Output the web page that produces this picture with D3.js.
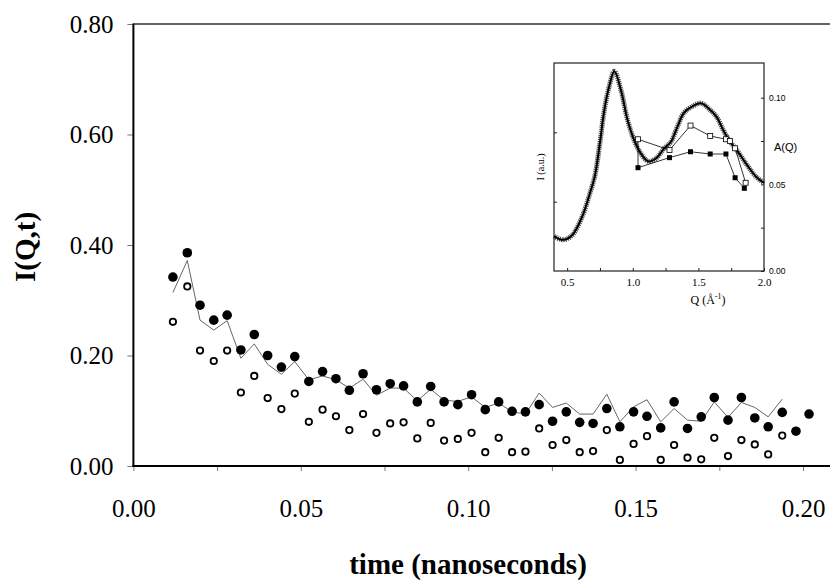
<!DOCTYPE html>
<html>
<head>
<meta charset="utf-8">
<script src="https://cdn.jsdelivr.net/npm/d3@7"></script>
<style>
  body { margin: 0; background: #fff; }
  svg { display: block; }
  .serif { font-family: "Liberation Serif", "Times New Roman", serif; }
  .sans { font-family: "Liberation Sans", Arial, sans-serif; }
</style>
</head>
<body>
<svg id="chart"></svg>
<script>
//Main chart data: time (ns) and intensities
let times = [0.0118, 0.0161, 0.0199, 0.0240, 0.0280, 0.0321, 0.0361, 0.0401, 0.0442, 0.0482,
             0.0524, 0.0565, 0.0605, 0.0645, 0.0686, 0.0726, 0.0767, 0.0807, 0.0848, 0.0888,
             0.0928, 0.0969, 0.1010, 0.1051, 0.1091, 0.1131, 0.1171, 0.1212, 0.1252, 0.1293,
             0.1333, 0.1373, 0.1414, 0.1453, 0.1494, 0.1534, 0.1575, 0.1615, 0.1655, 0.1696,
             0.1735, 0.1776, 0.1816, 0.1856, 0.1896, 0.1938, 0.1979, 0.2018];

let filledVals = [0.342, 0.386, 0.291, 0.264, 0.273, 0.210, 0.238, 0.200, 0.179, 0.198,
                  0.153, 0.171, 0.158, 0.137, 0.167, 0.138, 0.149, 0.145, 0.116, 0.144,
                  0.116, 0.111, 0.129, 0.102, 0.116, 0.099, 0.098, 0.111, 0.081, 0.098,
                  0.079, 0.077, 0.104, 0.071, 0.098, 0.090, 0.069, 0.116, 0.068, 0.089,
                  0.124, 0.083, 0.124, 0.087, 0.071, 0.097, 0.063, 0.094];

let openVals = [0.261, 0.325, 0.209, 0.190, 0.209, 0.133, 0.163, 0.123, 0.103, 0.131,
                0.080, 0.102, 0.090, 0.065, 0.094, 0.060, 0.077, 0.079, 0.050, 0.078,
                0.046, 0.049, 0.060, 0.025, 0.051, 0.025, 0.026, 0.068, 0.038, 0.047,
                0.025, 0.027, 0.065, 0.011, 0.040, 0.054, 0.011, 0.038, 0.015, 0.012,
                0.051, 0.018, 0.047, 0.039, 0.021, 0.055];

let lineVals = [0.314, 0.372, 0.264, 0.246, 0.263, 0.195, 0.221, 0.184, 0.166, 0.189,
                0.156, 0.163, 0.156, 0.141, 0.157, 0.128, 0.141, 0.141, 0.118, 0.139,
                0.119, 0.117, 0.125, 0.106, 0.114, 0.098, 0.094, 0.132, 0.106, 0.114,
                0.094, 0.094, 0.130, 0.080, 0.107, 0.120, 0.080, 0.104, 0.083, 0.081,
                0.116, 0.088, 0.115, 0.106, 0.089, 0.121];

let yTicks = [0, 0.2, 0.4, 0.6, 0.8];
let xTicks = [0, 0.025, 0.05, 0.075, 0.1, 0.125, 0.15, 0.175, 0.2];

//Inset data: structure factor I(Q) and A(Q)
let qCurve = [0.40, 0.47, 0.54, 0.62, 0.67, 0.71, 0.75, 0.78, 0.82, 0.86, 0.91, 0.96,
              1.01, 1.06, 1.12, 1.18, 1.24, 1.29, 1.34, 1.39, 1.46, 1.52, 1.58, 1.64,
              1.69, 1.74, 1.79, 1.87, 1.94, 2.00];
let iCurve = [0.50, 0.45, 0.52, 0.81, 1.10, 1.36, 1.85, 2.28, 2.66, 2.88, 2.61, 2.18,
              1.89, 1.70, 1.58, 1.63, 1.77, 1.86, 2.08, 2.28, 2.38, 2.42, 2.34, 2.22,
              2.03, 1.87, 1.75, 1.53, 1.36, 1.27];

let qOpen = [1.04, 1.28, 1.44, 1.59, 1.71, 1.74, 1.78, 1.86];
let aOpen = [0.0760, 0.0698, 0.0839, 0.0779, 0.0760, 0.0750, 0.0708, 0.0509];

let qFilled = [1.04, 1.28, 1.44, 1.59, 1.71, 1.78, 1.85];
let aFilled = [0.0596, 0.0654, 0.0688, 0.0675, 0.0675, 0.0538, 0.0477];

let qTicks = [0.5, 0.75, 1.0, 1.25, 1.5, 1.75, 2.0];
let aTicks = [0, 0.025, 0.05, 0.075, 0.1];
let iTicks = [1, 2];

//Canvas
let canvas = { width: 830, height: 582 };
let svg = d3.select('#chart')
            .attr('width', canvas.width)
            .attr('height', canvas.height);

//Scales
let xScale = d3.scaleLinear().domain([0, 0.2]).range([133.4, 803]);
let yScale = d3.scaleLinear().domain([0, 0.8]).range([466, 24]);

//Axes (ticks only, frame drawn separately)
let xAxis = d3.axisBottom(xScale)
              .tickValues(xTicks)
              .tickSize(5)
              .tickPadding(28)
              .tickFormat((d) => (Math.round(d * 1000) % 50 === 0) ? d3.format('.2f')(d) : '');
let yAxis = d3.axisLeft(yScale)
              .tickValues(yTicks)
              .tickSize(6)
              .tickPadding(14)
              .tickFormat(d3.format('.2f'));

let gx = svg.append('g')
   .attr('class', 'serif')
   .attr('transform', 'translate(0,' + yScale(0) + ')')
   .call(xAxis);
let gy = svg.append('g')
   .attr('class', 'serif')
   .attr('transform', 'translate(' + xScale(0) + ',0)')
   .call(yAxis);

[gx, gy].forEach((g) => {
    g.select('.domain').remove();
    g.selectAll('.tick line').attr('stroke', '#777').attr('stroke-width', 1);
    g.selectAll('.tick text').attr('fill', '#000').style('font-size', '25px');
});

//Frame
svg.append('line').attr('x1', 133.4).attr('x2', 830).attr('y1', 24).attr('y2', 24)
   .attr('stroke', '#333').attr('stroke-width', 1.3);
svg.append('line').attr('x1', 133.4).attr('x2', 133.4).attr('y1', 23.5).attr('y2', 467)
   .attr('stroke', '#000').attr('stroke-width', 2);
svg.append('line').attr('x1', 132.5).attr('x2', 830).attr('y1', 466).attr('y2', 466)
   .attr('stroke', '#000').attr('stroke-width', 2);

//Titles
svg.append('text')
   .attr('class', 'serif')
   .attr('x', 468)
   .attr('y', 574)
   .attr('text-anchor', 'middle')
   .style('font-size', '29px')
   .style('font-weight', 'bold')
   .text('time (nanoseconds)');

svg.append('text')
   .attr('class', 'serif')
   .attr('transform', 'translate(35,247) rotate(-90)')
   .attr('text-anchor', 'middle')
   .style('font-size', '29px')
   .style('font-weight', 'bold')
   .text('I(Q,t)');

//Thin line series
let line = d3.line()
             .x((d, i) => xScale(times[i]))
             .y((d) => yScale(d));
svg.append('path')
   .datum(lineVals)
   .attr('d', line)
   .attr('fill', 'none')
   .attr('stroke', '#666')
   .attr('stroke-width', 1);

//Open circles
svg.selectAll('circle.open')
   .data(openVals)
   .enter()
   .append('circle')
   .attr('class', 'open')
   .attr('cx', (d, i) => xScale(times[i]))
   .attr('cy', (d) => yScale(d))
   .attr('r', 3.2)
   .attr('fill', '#fff')
   .attr('stroke', '#000')
   .attr('stroke-width', 1.8);

//Filled circles
svg.selectAll('circle.filled')
   .data(filledVals)
   .enter()
   .append('circle')
   .attr('class', 'filled')
   .attr('cx', (d, i) => xScale(times[i]))
   .attr('cy', (d) => yScale(d))
   .attr('r', 4.8)
   .attr('fill', '#000');

//Inset
let inset = { left: 554, right: 764, top: 63, bottom: 271 };
let qScale = d3.scaleLinear().domain([0.4, 2.0]).range([inset.left, inset.right]);
let iScale = d3.scaleLinear().domain([0, 3]).range([inset.bottom, inset.top]);
let aScale = d3.scaleLinear().domain([0, 0.12]).range([inset.bottom, inset.top]);

let ginset = svg.append('g');

ginset.append('rect')
   .attr('x', inset.left).attr('y', inset.top)
   .attr('width', inset.right - inset.left)
   .attr('height', inset.bottom - inset.top)
   .attr('fill', '#fff')
   .attr('stroke', '#222')
   .attr('stroke-width', 1.2);

let qAxis = d3.axisBottom(qScale)
              .tickValues(qTicks)
              .tickSize(-3)
              .tickPadding(7)
              .tickFormat((d) => (Math.round(d * 100) % 50 === 0) ? d3.format('.1f')(d) : '');
let aAxis = d3.axisRight(aScale)
              .tickValues(aTicks)
              .tickSize(-3)
              .tickPadding(5)
              .tickFormat((d) => (Math.round(d * 1000) % 50 === 0) ? d3.format('.2f')(d) : '');
let iAxis = d3.axisLeft(iScale)
              .tickValues(iTicks)
              .tickSize(-3)
              .tickFormat('');

let gq = ginset.append('g').attr('class', 'serif')
   .attr('transform', 'translate(0,' + inset.bottom + ')').call(qAxis);
let ga = ginset.append('g').attr('class', 'sans')
   .attr('transform', 'translate(' + inset.right + ',0)').call(aAxis);
let gi = ginset.append('g')
   .attr('transform', 'translate(' + inset.left + ',0)').call(iAxis);

[gq, ga, gi].forEach((g) => {
    g.select('.domain').remove();
    g.selectAll('.tick line').attr('stroke', '#222');
    g.selectAll('.tick text').attr('fill', '#000');
});
gq.selectAll('.tick text').style('font-size', '11px');
ga.selectAll('.tick text').style('font-size', '8.5px');

//I(Q) curve: a soft wide band for the noise, then the core line
let qLine = d3.line()
              .x((d, i) => qScale(qCurve[i]))
              .y((d) => iScale(d))
              .curve(d3.curveCatmullRom);
ginset.append('path')
   .datum(iCurve)
   .attr('d', qLine)
   .attr('fill', 'none')
   .attr('stroke', '#555')
   .attr('stroke-width', 5)
   .attr('stroke-dasharray', '1.2 0.8');
ginset.append('path')
   .datum(iCurve)
   .attr('d', qLine)
   .attr('fill', 'none')
   .attr('stroke', '#000')
   .attr('stroke-width', 2);

//A(Q) open squares
let aLineOpen = d3.line()
                  .x((d, i) => qScale(qOpen[i]))
                  .y((d) => aScale(d));
ginset.append('path')
   .datum(aOpen)
   .attr('d', aLineOpen)
   .attr('fill', 'none')
   .attr('stroke', '#000')
   .attr('stroke-width', 0.8);

//A(Q) filled squares
let aLineFilled = d3.line()
                    .x((d, i) => qScale(qFilled[i]))
                    .y((d) => aScale(d));
ginset.append('path')
   .datum(aFilled)
   .attr('d', aLineFilled)
   .attr('fill', 'none')
   .attr('stroke', '#000')
   .attr('stroke-width', 0.8);

//connector between first open and filled square
ginset.append('line')
   .attr('x1', qScale(qOpen[0])).attr('x2', qScale(qFilled[0]))
   .attr('y1', aScale(aOpen[0])).attr('y2', aScale(aFilled[0]))
   .attr('stroke', '#000')
   .attr('stroke-width', 0.8);

ginset.selectAll('rect.open')
   .data(aOpen)
   .enter()
   .append('rect')
   .attr('class', 'open')
   .attr('x', (d, i) => qScale(qOpen[i]) - 2.5)
   .attr('y', (d) => aScale(d) - 2.5)
   .attr('width', 5).attr('height', 5)
   .attr('fill', '#fff')
   .attr('stroke', '#000')
   .attr('stroke-width', 0.8);

ginset.selectAll('rect.filled')
   .data(aFilled)
   .enter()
   .append('rect')
   .attr('class', 'filled')
   .attr('x', (d, i) => qScale(qFilled[i]) - 2.5)
   .attr('y', (d) => aScale(d) - 2.5)
   .attr('width', 5).attr('height', 5)
   .attr('fill', '#000');

//Inset labels
ginset.append('text')
   .attr('class', 'serif')
   .attr('transform', 'translate(544,167) rotate(-90)')
   .attr('text-anchor', 'middle')
   .style('font-size', '10px')
   .text('I (a.u.)');

ginset.append('text')
   .attr('class', 'sans')
   .attr('x', 774)
   .attr('y', 151)
   .style('font-size', '11px')
   .text('A(Q)');

let qLabel = ginset.append('text')
   .attr('class', 'serif')
   .attr('x', 708)
   .attr('y', 304)
   .attr('text-anchor', 'middle')
   .style('font-size', '12px');
qLabel.append('tspan').text('Q (Å');
qLabel.append('tspan').attr('dy', -5).style('font-size', '8px').text('-1');
qLabel.append('tspan').attr('dy', 5).text(')');
</script>
</body>
</html>
